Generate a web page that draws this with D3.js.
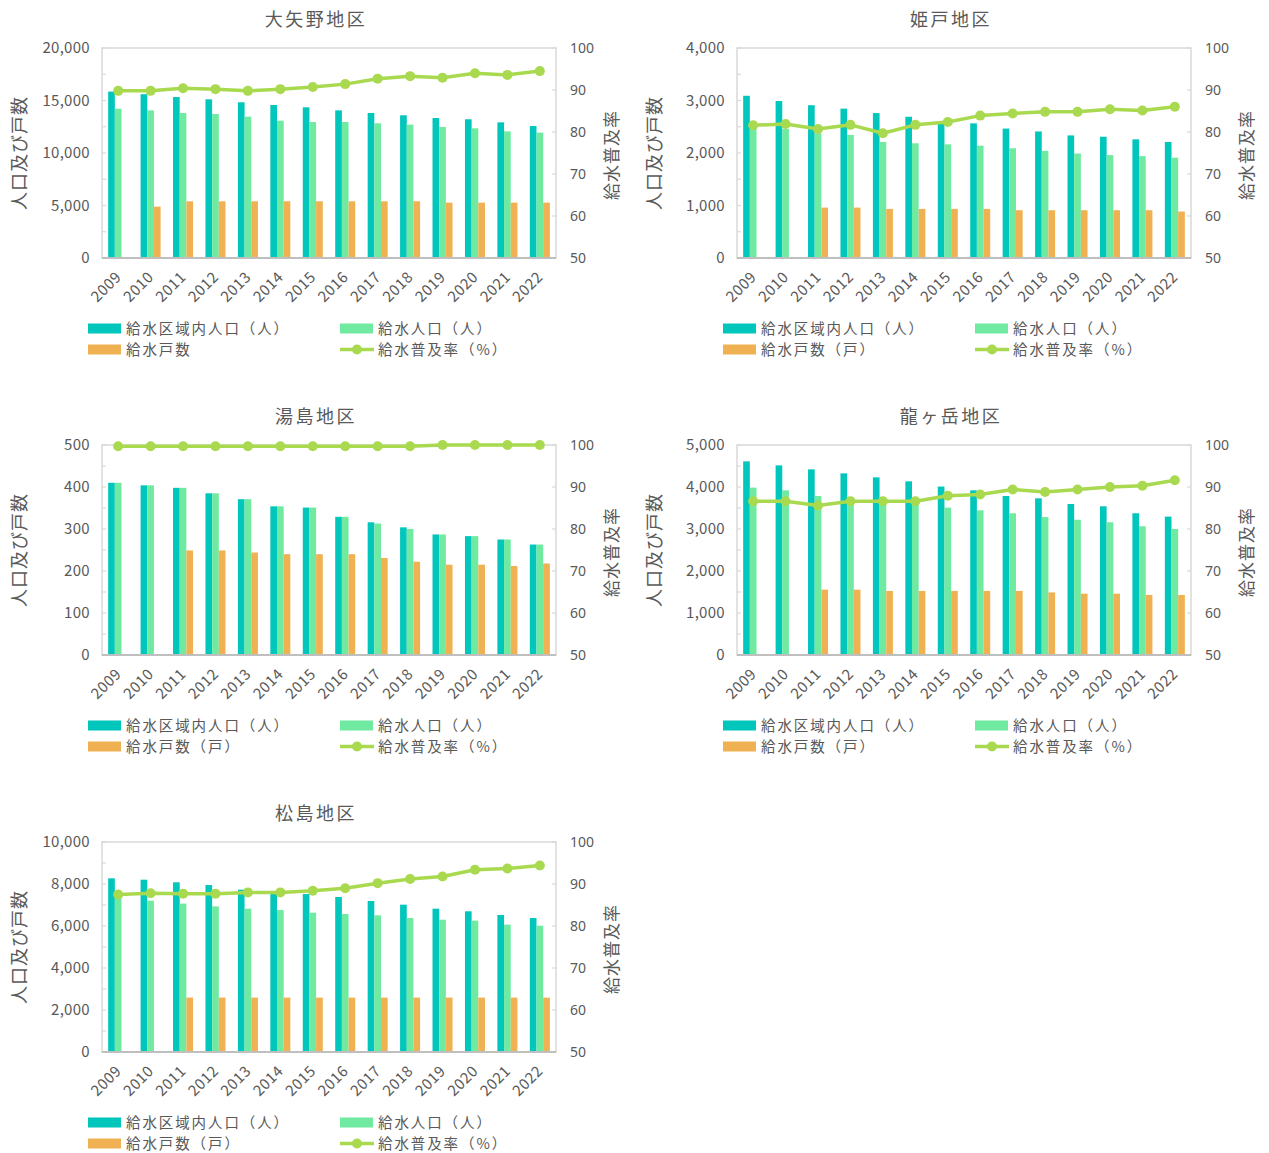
<!DOCTYPE html>
<html><head><meta charset="utf-8">
<script src="https://cdn.jsdelivr.net/npm/d3@7"></script>
<style>body{margin:0;background:#fff;} svg{display:block;}</style>
</head><body><svg id="c" width="1269" height="1153"></svg>
<script>
// ---------- data ----------
const years = [2009,2010,2011,2012,2013,2014,2015,2016,2017,2018,2019,2020,2021,2022];
const seriesNames = ["給水区域内人口（人）","給水人口（人）","給水戸数（戸）","給水普及率（%）"];

const oyanoArea  = [15850,15600,15330,15110,14830,14570,14350,14060,13810,13590,13330,13210,12920,12570];
const oyanoPop   = [14220,14060,13810,13710,13460,13080,12950,12950,12830,12700,12480,12350,12060,11940];
const oyanoHouse = [null,4890,5400,5400,5400,5400,5400,5400,5400,5400,5270,5270,5270,5270];
const oyanoRate  = [89.8,89.8,90.4,90.2,89.8,90.2,90.7,91.4,92.7,93.3,92.9,94.0,93.6,94.5];

const himedoArea  = [3090,2990,2910,2845,2760,2690,2600,2565,2465,2410,2335,2310,2260,2210];
const himedoPop   = [2540,2460,2375,2345,2210,2185,2165,2140,2090,2040,1990,1960,1940,1910];
const himedoHouse = [null,null,960,960,935,935,935,935,910,910,910,910,910,885];
const himedoRate  = [81.6,81.9,80.7,81.7,79.7,81.7,82.4,83.9,84.4,84.8,84.8,85.4,85.1,86.0];

const yushimaArea  = [410,404,398,385,371,354,351,329,316,304,287,283,275,263];
const yushimaPop   = [410,404,398,385,371,354,351,329,313,300,287,283,275,263];
const yushimaHouse = [null,null,249,249,244,240,240,240,231,222,215,215,212,218];
const yushimaRate  = [99.7,99.7,99.7,99.7,99.7,99.7,99.7,99.7,99.7,99.7,100,100,100,100];

const ryugatakeArea  = [4610,4515,4420,4325,4230,4135,4010,3920,3785,3730,3595,3540,3375,3295];
const ryugatakePop   = [3985,3920,3785,3760,3740,3700,3510,3445,3375,3285,3220,3160,3065,3000];
const ryugatakeHouse = [null,null,1555,1555,1525,1525,1525,1525,1525,1490,1460,1460,1430,1430];
const ryugatakeRate  = [86.6,86.6,85.6,86.6,86.6,86.6,87.9,88.2,89.4,88.8,89.4,90.0,90.3,91.6];

const matsushimaArea  = [8270,8205,8080,7950,7730,7540,7525,7380,7190,7015,6825,6700,6525,6380];
const matsushimaPop   = [7350,7205,7065,6935,6825,6760,6635,6570,6510,6380,6300,6255,6065,6015];
const matsushimaHouse = [null,null,2590,2590,2590,2590,2590,2590,2590,2590,2590,2590,2590,2590];
const matsushimaRate  = [87.5,87.8,87.7,87.7,88.0,88.0,88.4,89.0,90.2,91.2,91.8,93.4,93.7,94.4];

const districtNames = ["大矢野地区","姫戸地区","湯島地区","龍ヶ岳地区","松島地区"];
const leftMax   = [20000,4000,500,5000,10000];
const leftStep  = [5000,1000,100,1000,2000];
const houseLegend = ["給水戸数","給水戸数（戸）","給水戸数（戸）","給水戸数（戸）","給水戸数（戸）"];
const rateTicks = [50,60,70,80,90,100];

const districts = [
  {area:oyanoArea, pop:oyanoPop, house:oyanoHouse, rate:oyanoRate},
  {area:himedoArea, pop:himedoPop, house:himedoHouse, rate:himedoRate},
  {area:yushimaArea, pop:yushimaPop, house:yushimaHouse, rate:yushimaRate},
  {area:ryugatakeArea, pop:ryugatakePop, house:ryugatakeHouse, rate:ryugatakeRate},
  {area:matsushimaArea, pop:matsushimaPop, house:matsushimaHouse, rate:matsushimaRate}
];

// ---------- layout / style ----------
const layout = [[102,48],[737,48],[102,445],[737,445],[102,842]];
const W = 454, H = 210;
const C = {teal:"#00C6BC", green:"#6FEAA0", orange:"#EFB152", line:"#A9D94F", text:"#595959", grid:"#D9D9D9", axis:"#BFBFBF"};
const FONT = "'Noto Sans CJK JP','Noto Sans',sans-serif";
const NUMFONT = "'Noto Sans','Open Sans',sans-serif";

const svg = d3.select("#c");
svg.append("rect").attr("width",1269).attr("height",1153).attr("fill","#fff");

districts.forEach((d, i) => {
  const [L, T] = layout[i];
  const g = svg.append("g").attr("transform", `translate(${L},${T})`);

  const x = d3.scaleBand().domain(years).range([0, W]).paddingInner(0.383).paddingOuter(0.19);
  const xs = d3.scaleBand().domain(["area","pop","house"]).range([0, x.bandwidth()]);
  const y = d3.scaleLinear().domain([0, leftMax[i]]).range([H, 0]);
  const yr = d3.scaleLinear().domain([50, 100]).range([H, 0]);

  // plot border
  g.append("rect").attr("x",0).attr("y",0).attr("width",W).attr("height",H)
    .attr("fill","none").attr("stroke",C.grid).attr("stroke-width",1.5);

  // left axis ticks (minor at half step, inside)
  const minorTicks = d3.range(0, leftMax[i] + 1e-9, leftStep[i] / 2);
  g.append("g").selectAll("line").data(minorTicks).join("line")
    .attr("x1",0).attr("x2",4).attr("y1",v=>y(v)).attr("y2",v=>y(v))
    .attr("stroke",C.grid).attr("stroke-width",1.2);
  const majorTicks = d3.range(0, leftMax[i] + 1e-9, leftStep[i]);
  g.append("g").selectAll("text").data(majorTicks).join("text")
    .attr("x",-12).attr("y",v=>y(v)).attr("dy","0.35em")
    .attr("text-anchor","end").attr("fill",C.text)
    .style("font-family",FONT).style("font-size","15px").style("letter-spacing","0.3px")
    .text(v => d3.format(",")(v));

  // right axis ticks
  g.append("g").selectAll("line").data(rateTicks).join("line")
    .attr("x1",W-4).attr("x2",W).attr("y1",v=>yr(v)).attr("y2",v=>yr(v))
    .attr("stroke",C.grid).attr("stroke-width",1.2);
  g.append("g").selectAll("text").data(rateTicks).join("text")
    .attr("x",W+14).attr("y",v=>yr(v)).attr("dy","0.35em")
    .attr("text-anchor","start").attr("fill",C.text)
    .style("font-family",NUMFONT).style("font-size","14px")
    .text(v => v);

  // bars
  const keys = [["area",C.teal],["pop",C.green],["house",C.orange]];
  keys.forEach(([k, col]) => {
    const vals = years.map((yv, j) => ({year:yv, v:d[k][j]})).filter(o => o.v != null);
    g.append("g").selectAll("rect").data(vals).join("rect")
      .attr("x", o => x(o.year) + xs(k))
      .attr("width", xs.bandwidth())
      .attr("y", o => y(o.v))
      .attr("height", o => H - y(o.v))
      .attr("fill", col);
  });

  // bottom axis line
  g.append("line").attr("x1",0).attr("x2",W).attr("y1",H).attr("y2",H)
    .attr("stroke",C.axis).attr("stroke-width",2);

  // x labels
  g.append("g").selectAll("text").data(years).join("text")
    .attr("transform", yv => `translate(${x(yv) + x.bandwidth()/2 + 4},${H + 20}) rotate(-45)`)
    .attr("text-anchor","end").attr("fill",C.text)
    .style("font-family",FONT).style("font-size","15px").style("letter-spacing","0.5px")
    .text(yv => yv);

  // line
  const pts = years.map((yv, j) => ({year:yv, v:d.rate[j]}));
  const lineGen = d3.line().x(o => x(o.year) + x.bandwidth()/2).y(o => yr(o.v));
  g.append("path").datum(pts).attr("d", lineGen)
    .attr("fill","none").attr("stroke",C.line).attr("stroke-width",3.5).attr("stroke-linejoin","round");
  g.append("g").selectAll("circle").data(pts).join("circle")
    .attr("cx", o => x(o.year) + x.bandwidth()/2).attr("cy", o => yr(o.v))
    .attr("r",5).attr("fill",C.line);

  // title
  g.append("text").attr("x",214).attr("y",-28).attr("dy","0.35em")
    .attr("text-anchor","middle").attr("fill",C.text)
    .style("font-family",FONT).style("font-size","18px").style("letter-spacing","2.5px")
    .text(districtNames[i]);

  // axis titles
  g.append("text").attr("transform",`translate(${-82},${H/2}) rotate(-90)`)
    .attr("text-anchor","middle").attr("dy","0.35em").attr("fill",C.text)
    .style("font-family",FONT).style("font-size","18px").style("letter-spacing","1px")
    .text("人口及び戸数");
  g.append("text").attr("transform",`translate(${W+56},${H/2 + 2}) rotate(-90)`)
    .attr("text-anchor","middle").attr("dy","0.35em").attr("fill",C.text)
    .style("font-family",FONT).style("font-size","17px").style("letter-spacing","1px")
    .text("給水普及率");

  // legend
  const lg = g.append("g").attr("transform",`translate(0,${H})`);
  const items = [
    {x:-14, y:70.5, type:"rect", col:C.teal, label:seriesNames[0]},
    {x:238, y:70.5, type:"rect", col:C.green, label:seriesNames[1]},
    {x:-14, y:91.5, type:"rect", col:C.orange, label:houseLegend[i]},
    {x:238, y:91.5, type:"line", col:C.line, label:seriesNames[3]}
  ];
  items.forEach(it => {
    if (it.type === "rect") {
      lg.append("rect").attr("x",it.x).attr("y",it.y-5).attr("width",33).attr("height",10).attr("fill",it.col);
    } else {
      lg.append("line").attr("x1",it.x).attr("x2",it.x+34).attr("y1",it.y).attr("y2",it.y)
        .attr("stroke",it.col).attr("stroke-width",3.5);
      lg.append("circle").attr("cx",it.x+17).attr("cy",it.y).attr("r",5).attr("fill",it.col);
    }
    lg.append("text").attr("x",it.x+38).attr("y",it.y).attr("dy","0.36em").attr("fill",C.text)
      .style("font-family",FONT).style("font-size","14.5px").style("letter-spacing","1.9px")
      .text(it.label);
  });
});
</script>
</body></html>
